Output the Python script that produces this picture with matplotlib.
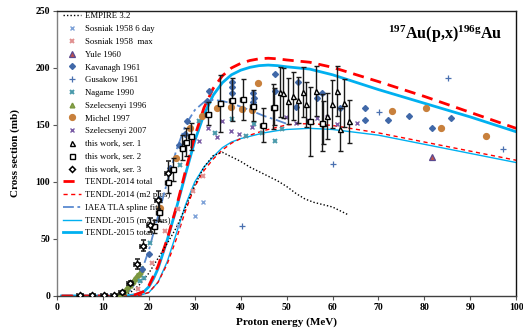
import matplotlib
matplotlib.use("Agg")
import matplotlib.pyplot as plt
from matplotlib.lines import Line2D
import numpy as np

plt.rcParams['font.family'] = ['Liberation Serif', 'DejaVu Serif']
plt.rcParams['mathtext.fontset'] = 'custom'
plt.rcParams['mathtext.rm'] = 'Liberation Serif:bold'
plt.rcParams['mathtext.bf'] = 'Liberation Serif:bold'
plt.rcParams['mathtext.it'] = 'Liberation Serif:bold'

# ---- model curves (energy MeV, cross section mb) ----
empire_x = [14, 16, 18, 20, 22, 24, 26, 28, 30, 32, 34, 36, 38, 40, 42, 44, 46, 48, 50, 52, 54, 56, 58, 60, 62, 63.5]
empire_y = [0.5, 3, 10, 20, 33, 46, 60, 78, 97, 113, 123, 126, 122, 118, 113, 109, 105, 101, 96, 90, 85, 82, 80, 78, 74, 71]

t14_tot_x = [1, 15, 17, 19, 20, 22, 24, 26, 28, 30, 32, 34, 36, 38, 40, 42, 44, 46, 48, 50, 55, 60, 70, 80, 90, 100]
t14_tot_y = [0, 0, 1, 4, 9, 26, 50, 78, 110, 140, 165, 182, 193, 200, 204, 206.5, 208, 208.5, 208, 207, 205, 200.5, 188, 175, 161, 147]

t14_m2_x = [1, 17, 18, 20, 22, 24, 26, 28, 30, 32, 34, 36, 38, 40, 42, 45, 48, 50, 53, 56, 60, 70, 80, 90, 100]
t14_m2_y = [0, 0, 0.5, 3, 12, 28, 50, 75, 96, 110, 120, 128, 134, 138, 141, 145, 148, 150, 151, 151, 149.5, 143, 135, 127, 119]

iaea_x = [14, 16, 18, 20, 22, 24, 26, 28, 30, 32, 34, 36, 38, 40, 42, 45, 48, 50]
iaea_y = [0.5, 5, 17, 40, 70, 100, 128, 150, 163, 170, 172, 171, 169, 166, 163, 158, 154, 151]

t15_m2_x = [1, 17, 18, 20, 22, 24, 26, 28, 30, 32, 34, 36, 38, 40, 42, 45, 48, 50, 55, 60, 70, 80, 90, 100]
t15_m2_y = [0, 0, 0.5, 3, 12, 30, 55, 80, 100, 113, 122, 130, 135, 138, 140, 143, 145, 146, 147, 146, 141, 133, 125, 117]

t15_tot_x = [1, 15, 17, 19, 20, 21, 22, 24, 26, 28, 30, 32, 34, 36, 38, 40, 42, 44, 46, 48, 50, 55, 60, 70, 80, 90, 100]
t15_tot_y = [0, 0, 1, 4, 8, 15, 24, 49, 77, 107, 136, 159, 176, 187, 194, 198, 200.5, 202, 202.5, 202, 201, 199, 194, 181, 169, 157, 144]

# ---- literature data ----
sos6_x = [26.3, 30.0, 31.7]
sos6_y = [61, 70, 82]

sosmax_x = [17.6, 20.7, 23.5, 26.3, 29.6, 31.7]
sosmax_y = [6, 29, 57, 76, 92, 105]

yule_x = [81.6]
yule_y = [122]

kav_x = [18.5, 20.0, 22.3, 24.5, 26.5, 27.8, 28.3, 32.6, 33.2, 38.0, 38.0, 38.0, 42.6, 42.8, 42.6, 47.4, 47.4,
         52.0, 52.4, 56.7, 57.6, 61.7, 67.0, 67.0, 72.0, 76.7, 81.7, 85.9]
kav_y = [24, 37, 85, 112, 132, 142, 153, 171, 180, 178, 183, 188, 170, 174, 178, 195, 180,
         166, 188, 174, 178, 165, 165, 154, 154, 158, 147, 156]

gus_x = [40.2, 60.0, 70.2, 85.2, 97.2]
gus_y = [61, 116, 161, 191, 128.5]

nag_x = [18.0, 19.0, 20.2, 26.7, 31.0, 34.3, 38.0, 41.1, 43.0, 44.6, 47.4, 49.0]
nag_y = [13, 16, 46, 115, 153, 143, 155, 140, 151, 143, 136, 146]

sz96_x = [13.0, 13.3, 13.5, 13.8, 14.0, 14.3, 14.5, 14.8, 15.0, 15.3, 15.5, 15.8, 16.0, 16.3, 16.5,
          16.8, 17.0, 17.3, 17.5, 17.8, 18.0, 18.3, 18.5]
sz96_y = [0.3, 0.8, 1.5, 2.0, 3.0, 3.5, 4.5, 5.5, 6.5, 7.5, 8.5, 9.5, 11.0, 12.0, 13.5,
          14.5, 16.0, 17.0, 18.5, 19.5, 21.0, 22.5, 24.5]

mic_x = [22.4, 26.0, 28.9, 31.5, 34.8, 37.8, 40.2, 42.4, 43.7, 73.0, 80.4, 83.7, 93.5]
mic_y = [77, 121, 147, 158, 165, 166, 164, 163, 187, 162, 165, 147, 140]

sz07_x = [31.0, 32.9, 34.8, 36.0, 37.8, 39.6, 42.4, 49.8, 52.0, 54.6, 56.7, 58.9, 61.0, 65.4]
sz07_y = [136, 147, 139, 153, 145, 142, 148, 157, 152, 154, 156, 157, 151, 152]

# ---- this work ----
s1_x = [47.0, 48.5, 49.3, 50.2, 51.3, 52.4, 53.5, 54.3, 56.3, 58.0, 58.9, 59.8, 60.9, 61.7, 62.6, 63.5]
s1_y = [166, 179, 178, 171, 175, 172, 179, 168, 180, 152, 158, 168, 180, 146, 169, 153]
s1_err = [20, 22, 22, 20, 21, 20, 22, 20, 22, 19, 20, 21, 22, 19, 21, 19]

s2_x = [21.1, 22.2, 24.1, 25.2, 27.3, 28.0, 29.1, 32.9, 35.6, 38.0, 40.4, 42.6, 44.8, 47.2, 55.0, 57.8]
s2_y = [61, 74, 100, 111, 130, 135, 140, 160, 169, 172, 172.5, 167, 150, 166, 153, 152]
s2_err = [6, 8, 10, 10, 11, 12, 12, 10, 25, 19, 18, 14, 15, 16, 30, 25]

s3_x = [5.0, 7.7, 10.2, 12.4, 14.1, 15.9, 17.4, 18.7, 20.2, 22.0, 24.1]
s3_y = [0.5, 0.5, 0.5, 0.6, 3, 11.5, 28, 44, 62, 84, 108]
s3_err = [0.3, 0.3, 0.3, 0.3, 1, 2, 4, 5, 6, 8, 10]

fig = plt.figure(figsize=(5.23, 3.31), dpi=100)
ax = fig.add_axes([0.109, 0.106, 0.878, 0.861])

blue = '#00b0f0'
ax.plot(t15_tot_x, t15_tot_y, color=blue, lw=2.0, zorder=2)
ax.plot(t15_m2_x, t15_m2_y, color=blue, lw=1.0, zorder=2)
ax.plot(t14_tot_x, t14_tot_y, color='#ff0000', lw=2.0, dashes=(4, 2.5), zorder=2)
ax.plot(t14_m2_x, t14_m2_y, color='#ff0000', lw=1.0, dashes=(3, 2.5), zorder=2)
ax.plot(iaea_x, iaea_y, color='#5a8ad0', lw=1.3, dashes=(6, 2, 1.5, 2), zorder=2)
ax.plot(empire_x, empire_y, color='black', lw=1.0, dashes=(1, 1.5), zorder=2)

ms_s = 3.4
ax.plot(sz96_x, sz96_y, ls='none', marker='^', ms=ms_s, mfc='#8aa648', mec='#7a9640', zorder=3)
ax.plot(sos6_x, sos6_y, ls='none', marker='x', ms=ms_s, mew=1.0, color='#7fa3d8', zorder=3)
ax.plot(sosmax_x, sosmax_y, ls='none', marker='x', ms=ms_s, mew=1.4, color='#e09090', zorder=3)
ax.plot(kav_x, kav_y, ls='none', marker='D', ms=3.0, color='#4068a8', zorder=3)
ax.plot(gus_x, gus_y, ls='none', marker='+', ms=4, mew=0.9, color='#4a70b0', zorder=3)
ax.plot(nag_x, nag_y, ls='none', marker='x', ms=ms_s, mew=1.4, color='#4a9aab', zorder=3)
ax.plot(mic_x, mic_y, ls='none', marker='o', ms=4.2, color='#c8803c', zorder=3)
ax.plot(sz07_x, sz07_y, ls='none', marker='x', ms=ms_s, mew=1.0, color='#7a5ca5', zorder=3)
ax.plot(yule_x, yule_y, ls='none', marker='^', ms=4, mfc='#c0504d', mec='#5a4a90', mew=0.9, zorder=3)

eb_kw = dict(ls='none', ecolor='#1a1a1a', elinewidth=1.0, capsize=1.8, capthick=0.9, zorder=4)
ax.errorbar(s1_x, s1_y, yerr=s1_err, marker='^', ms=3.6, mfc='white', mec='black', mew=1.0, **eb_kw)
ax.errorbar(s2_x, s2_y, yerr=s2_err, xerr=0.6, marker='s', ms=3.6, mfc='white', mec='black', mew=1.0, **eb_kw)
ax.errorbar(s3_x, s3_y, yerr=s3_err, xerr=0.6, marker='D', ms=3.0, mfc='white', mec='black', mew=1.1, **eb_kw)

ax.set_xlim(0, 100)
ax.set_ylim(0, 250)
ax.set_xticks(np.arange(0, 101, 10))
ax.set_yticks(np.arange(0, 251, 50))
for lab in ax.get_xticklabels() + ax.get_yticklabels():
    lab.set_fontweight('bold')
    lab.set_fontsize(7)
ax.tick_params(direction='out', length=3, width=0.8, pad=2, color='#555555')
ax.spines['left'].set_color('#808080')
ax.spines['bottom'].set_color('#404040')
ax.spines['top'].set_color('#222222')
ax.spines['right'].set_color('#111111')
for s in ax.spines.values():
    s.set_linewidth(1.0)

ax.set_xlabel('Proton energy (MeV)', fontsize=8, fontweight='bold', labelpad=4)
ax.set_ylabel('Cross section (mb)', fontsize=8, fontweight='bold', labelpad=11)

ax.text(0.97, 0.955, r'$^{\mathrm{197}}$Au(p,x)$^{\mathrm{196g}}$Au', transform=ax.transAxes,
        ha='right', va='top', fontsize=11.5, fontweight='bold')

handles = [
    Line2D([], [], color='black', lw=1.0, dashes=(1, 1.5)),
    Line2D([], [], ls='none', marker='x', ms=ms_s, mew=1.0, color='#7fa3d8'),
    Line2D([], [], ls='none', marker='x', ms=ms_s, mew=1.4, color='#e09090'),
    Line2D([], [], ls='none', marker='^', ms=4, mfc='#c0504d', mec='#5a4a90', mew=0.9),
    Line2D([], [], ls='none', marker='D', ms=3.0, color='#4068a8'),
    Line2D([], [], ls='none', marker='+', ms=4, mew=0.9, color='#4a70b0'),
    Line2D([], [], ls='none', marker='x', ms=ms_s, mew=1.4, color='#4a9aab'),
    Line2D([], [], ls='none', marker='^', ms=ms_s, mfc='#8aa648', mec='#7a9640'),
    Line2D([], [], ls='none', marker='o', ms=4.2, color='#c8803c'),
    Line2D([], [], ls='none', marker='x', ms=ms_s, mew=1.0, color='#7a5ca5'),
    Line2D([], [], ls='none', marker='^', ms=3.6, mfc='white', mec='black', mew=1.0),
    Line2D([], [], ls='none', marker='s', ms=3.6, mfc='white', mec='black', mew=1.0),
    Line2D([], [], ls='none', marker='D', ms=3.0, mfc='white', mec='black', mew=1.1),
    Line2D([], [], color='#ff0000', lw=2.0, dashes=(4, 2.5)),
    Line2D([], [], color='#ff0000', lw=1.0, dashes=(3, 2.5)),
    Line2D([], [], color='#5a8ad0', lw=1.3, dashes=(6, 2, 1.5, 2)),
    Line2D([], [], color=blue, lw=1.0),
    Line2D([], [], color=blue, lw=2.0),
]
labels = ['EMPIRE 3.2', 'Sosniak 1958 6 day', 'Sosniak 1958  max', 'Yule 1960', 'Kavanagh 1961',
          'Gusakow 1961', 'Nagame 1990', 'Szelecsenyi 1996', 'Michel 1997', 'Szelecsenyi 2007',
          'this work, ser. 1', 'this work, ser. 2', 'this work, ser. 3', 'TENDL-2014 total',
          'TENDL-2014 (m2 plus)', 'IAEA TLA spline fit', 'TENDL-2015 (m2 plus)', 'TENDL-2015 total']
leg = ax.legend(handles, labels, loc='upper left', bbox_to_anchor=(0.0, 1.015), frameon=False,
                fontsize=6.3, handlelength=2.1, handletextpad=0.45, labelspacing=0.53,
                borderaxespad=0.25)
leg.set_zorder(1)

fig.savefig('out.png', dpi=100)
